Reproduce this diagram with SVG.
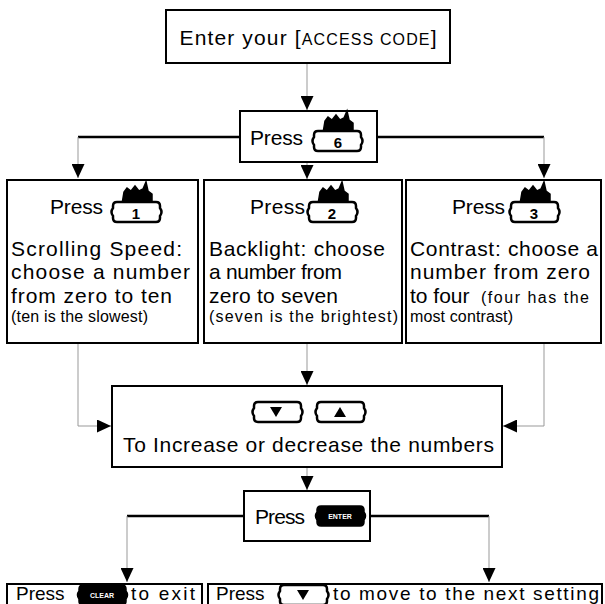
<svg xmlns="http://www.w3.org/2000/svg" width="605" height="604" viewBox="0 0 605 604">
<style>
.box{fill:#fff;stroke:#000;stroke-width:2}
.thick{stroke:#000;stroke-width:2.5;fill:none}
.thin{stroke:#999;stroke-width:1;fill:none}
.t{font-family:"Liberation Sans",Arial,sans-serif;font-size:21px;fill:#000}
.s{font-size:16px}
.sc{font-size:16px}
.b{font-size:19px}
.d{font-family:"Liberation Sans",Arial,sans-serif;font-size:15px;font-weight:bold;fill:#000;text-anchor:middle}
.w{font-family:"Liberation Sans",Arial,sans-serif;font-size:7px;font-weight:bold;fill:#fff;text-anchor:middle}
.kb{fill:#fff;stroke:#000;stroke-width:2.5}
.kf{fill:#000;stroke:#000;stroke-width:1.5}
</style>
<defs>
<marker id="ah" markerUnits="userSpaceOnUse" markerWidth="14" markerHeight="13" refX="14" refY="6.5" orient="auto">
<path d="M0,0 L14,6.5 L0,13 Z" fill="#000"/>
</marker>
<path id="keybody" d="M5,0 H44 Q48,0 48,4 V6 Q51,10 48,14 V16 Q48,20 44,20 H5 Q1,20 1,16 V14 Q-2,10 1,6 V4 Q1,0 5,0 Z"/>
<path id="keylabel" d="M10,2 L12,-10 L15,-14 L19,-11 L23,-16 L27,-11 L31,-13 L34,-20 L36,-11 L40,-8 L40,2 Z"/>
</defs>

<g id="connectors">
<line class="thin" x1="307" y1="63" x2="307" y2="110" marker-end="url(#ah)"/>
<line class="thick" x1="240" y1="137" x2="78" y2="137"/>
<line class="thin" x1="78" y1="137" x2="78" y2="178" marker-end="url(#ah)"/>
<line class="thick" x1="377" y1="137" x2="544" y2="137"/>
<line class="thin" x1="544" y1="137" x2="544" y2="178" marker-end="url(#ah)"/>
<line class="thin" x1="307" y1="162" x2="307" y2="179" marker-end="url(#ah)"/>
<polyline class="thin" points="78,343 78,426 111,426" marker-end="url(#ah)"/>
<polyline class="thin" points="544,343 544,426 503,426" marker-end="url(#ah)"/>
<line class="thin" x1="307" y1="343" x2="307" y2="385" marker-end="url(#ah)"/>
<line class="thin" x1="307" y1="467" x2="307" y2="490" marker-end="url(#ah)"/>
<line class="thick" x1="244" y1="516" x2="127" y2="516"/>
<line class="thin" x1="127" y1="516" x2="127" y2="582" marker-end="url(#ah)"/>
<line class="thick" x1="370" y1="516" x2="489" y2="516"/>
<line class="thin" x1="489" y1="516" x2="489" y2="582" marker-end="url(#ah)"/>
</g>

<g id="n-enter-code">
<rect class="box" x="166" y="10" width="284" height="53"/>
<text class="t" x="308" y="45" text-anchor="middle" textLength="257" font-size="22">Enter your [<tspan class="sc">ACCESS CODE</tspan>]</text>
</g>

<g id="n-press6">
<rect class="box" x="240" y="111" width="137" height="51"/>
<text class="t" x="250" y="145" textLength="53">Press</text>
<use href="#keylabel" class="kf" transform="translate(313,131)"/>
<use href="#keybody" class="kb" transform="translate(313,131)"/>
<text class="d" x="338" y="148">6</text>
</g>

<g id="n-scroll">
<rect class="box" x="7" y="180" width="191" height="163"/>
<text class="t" x="50" y="214" textLength="53">Press</text>
<use href="#keylabel" class="kf" transform="translate(112,202)"/>
<use href="#keybody" class="kb" transform="translate(112,202)"/>
<text class="d" x="136" y="219">1</text>
<text class="t" x="11" y="256" textLength="171">Scrolling Speed:</text>
<text class="t" x="11" y="279" textLength="179">choose a number</text>
<text class="t" x="11" y="303" textLength="161">from zero to ten</text>
<text class="t s" x="11" y="322" textLength="137">(ten is the slowest)</text>
</g>

<g id="n-backlight">
<rect class="box" x="204" y="180" width="198" height="163"/>
<text class="t" x="250" y="214" textLength="55">Press</text>
<use href="#keylabel" class="kf" transform="translate(308,202)"/>
<use href="#keybody" class="kb" transform="translate(308,202)"/>
<text class="d" x="332" y="219">2</text>
<text class="t" x="209" y="256" textLength="176">Backlight: choose</text>
<text class="t" x="209" y="279" textLength="133">a number from</text>
<text class="t" x="209" y="303" textLength="129">zero to seven</text>
<text class="t s" x="209" y="322" textLength="189">(seven is the brightest)</text>
</g>

<g id="n-contrast">
<rect class="box" x="406" y="180" width="195" height="163"/>
<text class="t" x="452" y="214" textLength="53">Press</text>
<use href="#keylabel" class="kf" transform="translate(510,202)"/>
<use href="#keybody" class="kb" transform="translate(510,202)"/>
<text class="d" x="534" y="219">3</text>
<text class="t" x="410" y="256" textLength="188">Contrast: choose a</text>
<text class="t" x="410" y="279" textLength="180">number from zero</text>
<text class="t" x="410" y="303">to four</text>
<text class="t s" x="481" y="303" textLength="108">(four has the</text>
<text class="t s" x="410" y="322" textLength="103">most contrast)</text>
</g>

<g id="n-change">
<rect class="box" x="112" y="386" width="390" height="81"/>
<use href="#keybody" class="kb" transform="translate(253,402)"/>
<path d="M270,407 H282 L276,417 Z" fill="#000"/>
<use href="#keybody" class="kb" transform="translate(316,402)"/>
<path d="M334,417 H346 L340,407 Z" fill="#000"/>
<text class="t" x="123" y="452" textLength="371">To Increase or decrease the numbers</text>
</g>

<g id="n-press-enter">
<rect class="box" x="244" y="491" width="126" height="50"/>
<text class="t" x="255" y="524" textLength="50">Press</text>
<use href="#keybody" class="kf" transform="translate(316,506)"/>
<text class="w" x="340" y="519">ENTER</text>
</g>

<g id="n-exit">
<rect class="box" x="7" y="584" width="195" height="30"/>
<text class="t b" x="16" y="600">Press</text>
<use href="#keybody" class="kf" transform="translate(78,585)"/>
<text class="w" x="102" y="598">CLEAR</text>
<text class="t b" x="131" y="600" textLength="64">to exit</text>
</g>

<g id="n-next">
<rect class="box" x="208" y="584" width="394" height="30"/>
<text class="t b" x="216" y="600">Press</text>
<use href="#keybody" class="kb" transform="translate(279,585)"/>
<path d="M297,590 H309 L303,600 Z" fill="#000"/>
<text class="t b" x="333" y="600" textLength="266">to move to the next setting</text>
</g>
</svg>
